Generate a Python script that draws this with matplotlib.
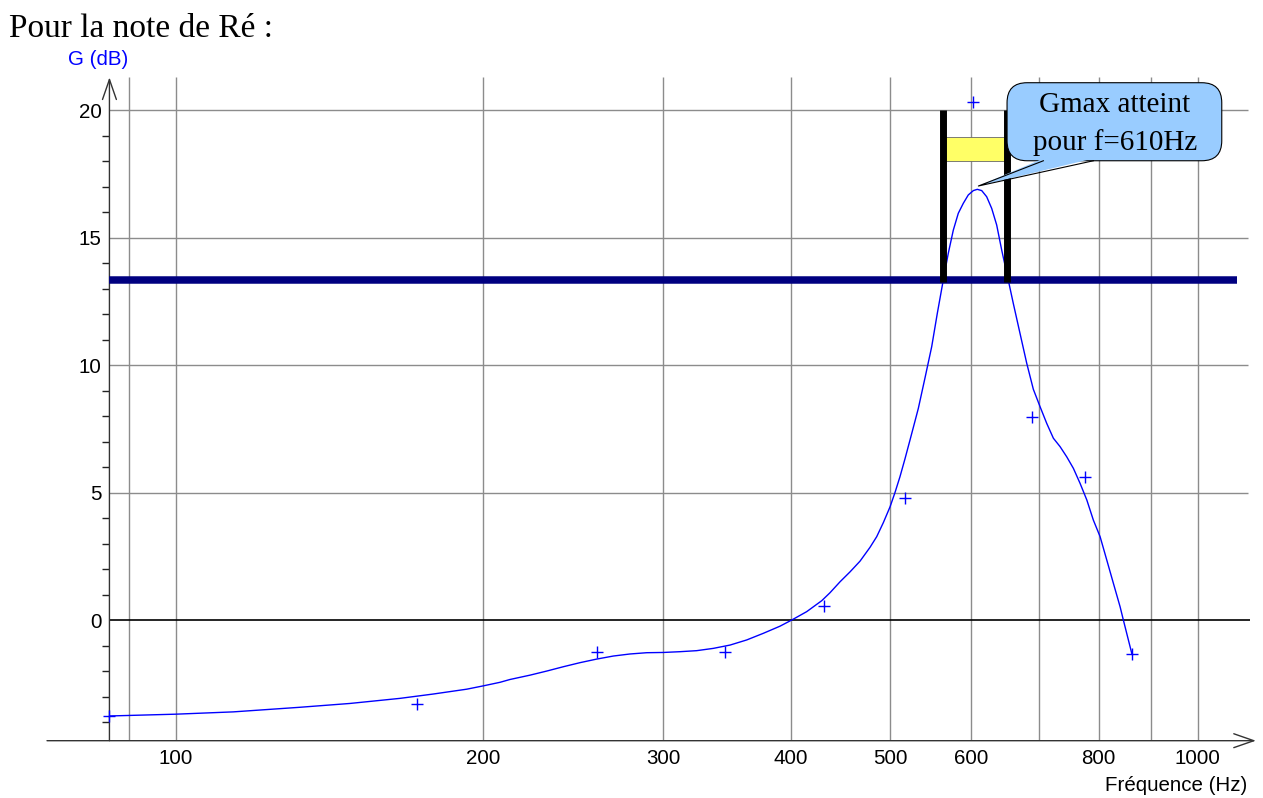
import matplotlib
matplotlib.use('Agg')
import matplotlib.pyplot as plt
from matplotlib.patches import FancyBboxPatch, Polygon, Rectangle
from matplotlib.transforms import IdentityTransform
from matplotlib.ticker import NullLocator

plt.rcParams['font.family'] = ['Liberation Sans', 'DejaVu Sans']

# measured gain for each harmonic of the note (Hz, dB)
freq_meas = [86.1, 172.3, 258.4, 344.7, 430.8, 517.2, 603.0, 688.9, 776.5, 862.0]
gain_meas = [-3.76, -3.30, -1.27, -1.24, 0.55, 4.77, 20.33, 7.95, 5.60, -1.33]

# smoothed curve as drawn on the sheet
curve_freq = [86.2, 100.0, 113.8, 132.2, 148.0, 165.7, 178.6, 192.6, 199.9, 207.6,
              212.3, 222.1, 230.6, 239.4, 248.6, 258.1, 268.0, 278.2, 288.9, 299.9,
              311.4, 323.3, 335.7, 348.6, 361.9, 375.7, 390.1, 400.5, 414.3, 428.6,
              436.6, 446.6, 456.8, 467.2, 477.8, 485.1, 492.4, 499.9, 505.5, 511.2,
              517.0, 522.9, 528.8, 532.8, 540.9, 549.1, 556.1, 563.6, 570.0, 576.5,
              583.0, 589.6, 596.3, 603.1, 608.5, 614.6, 621.5, 628.6, 635.7, 642.9,
              652.5, 659.9, 670.0, 680.2, 690.4, 700.9, 711.6, 722.3, 733.3, 744.4,
              755.6, 767.1, 778.8, 790.4, 802.5, 814.7, 826.9, 839.5, 845.7, 861.9]
curve_gain = [-3.76, -3.69, -3.60, -3.42, -3.27, -3.07, -2.90, -2.71, -2.58, -2.44,
              -2.33, -2.16, -2.00, -1.83, -1.67, -1.53, -1.41, -1.33, -1.28, -1.27,
              -1.24, -1.20, -1.11, -0.98, -0.78, -0.52, -0.24, 0.00, 0.33, 0.76,
              1.07, 1.50, 1.89, 2.31, 2.85, 3.27, 3.82, 4.44, 5.00, 5.62,
              6.32, 7.06, 7.80, 8.30, 9.50, 10.72, 12.03, 13.33, 14.38, 15.29,
              15.95, 16.34, 16.67, 16.84, 16.89, 16.84, 16.60, 16.14, 15.49, 14.51,
              13.33, 12.42, 11.24, 10.07, 9.05, 8.37, 7.71, 7.13, 6.80, 6.40,
              5.95, 5.36, 4.71, 3.92, 3.27, 2.35, 1.44, 0.52, 0.00, -1.31]

# Gmax - 3 dB level and resulting band
g_threshold = 13.35
band_low = 563.0
band_high = 651.0
band_top = 20.0
f_gmax = 610

x_ticks = [100, 200, 300, 400, 500, 600, 800, 1000]
x_grid = [90, 100, 200, 300, 400, 500, 600, 700, 800, 900, 1000]
y_ticks = [0, 5, 10, 15, 20]
y_minor = [v for v in range(-4, 20) if v % 5 != 0]

f_axis = 86.1
xmin, xmax = 74.8, 1140
ymin, ymax = -4.73, 21.5

W, H = 1263, 798
fig = plt.figure(figsize=(W / 100, H / 100), dpi=100)
ax = fig.add_axes([47 / W, (H - 740.7) / H, (1255.9 - 47) / W, (740.7 - 71.75) / H])
ax.set_xscale('log')
ax.set_xlim(xmin, xmax)
ax.set_ylim(ymin, ymax)

for s in ax.spines.values():
    s.set_visible(False)
ax.spines['left'].set_position(('data', f_axis))

ax.set_xticks(x_ticks)
ax.set_xticklabels([str(t) for t in x_ticks])
ax.xaxis.set_minor_locator(NullLocator())
ax.tick_params(axis='x', which='major', length=0, pad=6, labelsize=14.8)
ax.set_yticks(y_ticks)
ax.set_yticks(y_minor, minor=True)
ax.tick_params(axis='y', which='major', length=0, pad=5.8, labelsize=14.8)
ax.tick_params(axis='y', which='minor', length=5, width=1, direction='out', color='#222222')

# grid
ax.vlines(x_grid, ymin, 21.28, colors='#8c8c8c', lw=1, zorder=1)
ax.hlines([5, 10, 15, 20], f_axis, 1121, colors='#8c8c8c', lw=1, zorder=1)
ax.hlines(0, f_axis, 1125, colors='black', lw=1.2, zorder=1)

# axes with open arrow heads
arrow = dict(arrowstyle='->,head_length=1.44,head_width=0.5', mutation_scale=10,
             lw=1, color='#333333', shrinkA=0, shrinkB=0)
ax.annotate('', xy=(xmax, ymin), xytext=(xmin, ymin), arrowprops=arrow, annotation_clip=False)
ax.annotate('', xy=(f_axis, 21.28), xytext=(f_axis, ymin), arrowprops=arrow, annotation_clip=False)

# curve and measurements
ax.plot(curve_freq, curve_gain, color='#0000ff', lw=1, zorder=3)
ax.plot(freq_meas, gain_meas, '+', color='#0000ff', ms=9, mew=1, zorder=4, clip_on=False)

# threshold line and band
ax.plot([f_axis, 1093.5], [g_threshold, g_threshold], color='#000080', lw=5.4,
        solid_capstyle='butt', zorder=5)
ax.add_patch(Rectangle((band_low, 18.01), band_high - band_low, 0.92,
                       fc='#ffff66', ec='#666666', lw=0.6, zorder=5.5))
for f in (band_low, band_high):
    ax.plot([f, f], [g_threshold - 0.1, band_top], color='black', lw=5,
            solid_capstyle='butt', zorder=6)

# callout
(x0, y0), (x1, y1) = ax.transData.transform([(650.7, 18.01), (1055.6, 21.07)])
box = FancyBboxPatch((x0, y0), x1 - x0, y1 - y0, boxstyle='round,pad=0,rounding_size=20',
                     transform=IdentityTransform(), fc='#99ccff', ec='black', lw=0.8,
                     zorder=7, clip_on=False)
ax.add_patch(box)
ax.add_patch(Polygon([(706.2, 18.1), (790.5, 18.1), (f_gmax, 17.02)], closed=True,
                     fc='#99ccff', ec='none', zorder=7.1))
ax.plot([706.2, f_gmax, 790.5], [18.01, 17.02, 18.01], color='black', lw=0.8, zorder=7.2)
ax.text(830, 19.45, 'Gmax atteint\npour f=610Hz', ha='center', va='center',
        family='Liberation Serif', fontsize=21, linespacing=1.5, zorder=8)

# labels
ax.text(83.9, 21.76, 'G (dB)', color='#0000ff', ha='center', va='baseline',
        fontsize=14.8, clip_on=False)
ax.text(1117.5, -6.69, 'Fréquence (Hz)', ha='right', va='baseline', fontsize=14.8,
        clip_on=False)
fig.text(9 / W, 1 - 37 / H, 'Pour la note de Ré :', family='Liberation Serif',
         fontsize=24, va='baseline')

fig.savefig('out.png', dpi=100)
